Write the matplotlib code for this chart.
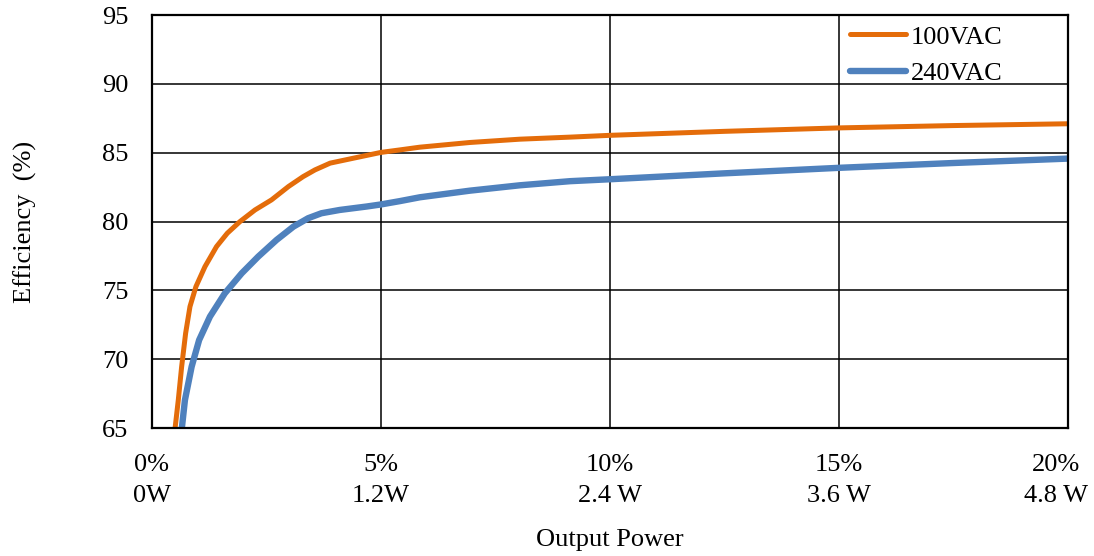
import matplotlib
import matplotlib.pyplot as plt
from matplotlib import transforms

matplotlib.use('Agg')

plt.rcParams['font.family'] = ['Liberation Serif', 'DejaVu Serif']

# load in %, efficiency in %
x_100 = [0.50, 0.575, 0.648, 0.735, 0.83, 0.96, 1.157, 1.41, 1.645, 1.92, 2.25, 2.61,
         2.98, 3.30, 3.56, 3.89, 4.40, 5.0, 5.41, 5.85, 6.94, 8.03, 9.13, 10, 12.5, 15,
         17.5, 20]
eff_100 = [64.85, 67.03, 69.45, 71.88, 73.82, 75.27, 76.72, 78.18, 79.15, 79.99, 80.84, 81.57,
           82.54, 83.26, 83.75, 84.24, 84.6, 85.02, 85.2, 85.4, 85.74, 85.98, 86.13, 86.26,
           86.55, 86.8, 86.97, 87.1]

x_240 = [0.648, 0.72, 0.866, 1.03, 1.266, 1.59, 1.96, 2.32, 2.72, 3.09, 3.41, 3.70, 4.10,
         4.69, 5.0, 5.41, 5.85, 6.94, 8.03, 9.13, 10, 12.5, 15, 17.5, 20]
eff_240 = [64.85, 67.03, 69.45, 71.39, 73.09, 74.78, 76.24, 77.45, 78.66, 79.63, 80.24, 80.6,
           80.84, 81.09, 81.24, 81.48, 81.76, 82.24, 82.63, 82.93, 83.07, 83.5, 83.9, 84.25,
           84.57]

x_ticks = [0, 5, 10, 15, 20]
x_labels = ['0%\n0W', '5%\n1.2W', '10%\n2.4 W', '15%\n3.6 W', '20%\n4.8 W']
y_ticks = [65, 70, 75, 80, 85, 90, 95]

fig = plt.figure(figsize=(10.94, 5.56), dpi=100)
ax = fig.add_axes([0.1389, 0.2302, 0.8373, 0.7428])

ax.plot(x_100, eff_100, color='#E46C0A', lw=3.6, label='100VAC', solid_capstyle='round')
ax.plot(x_240, eff_240, color='#4F81BD', lw=4.6, label='240VAC', solid_capstyle='round')

ax.set_xlim(0, 20)
ax.set_ylim(65, 95)
ax.set_xticks(x_ticks)
ax.set_xticklabels(x_labels, linespacing=1.5)
ax.set_yticks(y_ticks)
ax.tick_params(length=0, labelsize=19)
ax.tick_params(axis='x', pad=19)
ax.tick_params(axis='y', pad=17)

# last label sits a bit left so it stays in the picture
last = ax.get_xticklabels()[-1]
last.set_transform(last.get_transform() + transforms.ScaledTranslation(-12 / 100, 0, fig.dpi_scale_trans))

ax.grid(True, color='black', lw=1.1)
ax.set_axisbelow(True)
for s in ax.spines.values():
    s.set_linewidth(1.6)

ax.set_xlabel('Output Power', fontsize=19, labelpad=16)
ax.set_ylabel('Efficiency  (%)', fontsize=19, labelpad=47)

ax.legend(loc='upper right', bbox_to_anchor=(0.949, 1.02), frameon=False, fontsize=19,
          handlelength=2.1, handletextpad=0.2, labelspacing=0.5, borderaxespad=0.3)

fig.savefig('out.png', dpi=100)
